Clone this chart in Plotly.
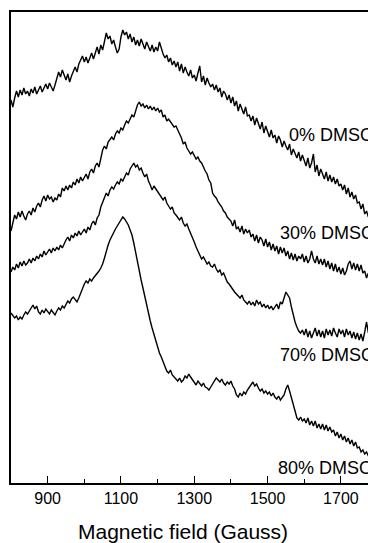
import plotly.graph_objects as go

# Magnetic field axis (Gauss), sampled every 5 G
field_start = 800
field_step = 5

# EPR signal traces (arbitrary units, offset vertically for display)
dmso_0 = [
    383, 376, 385, 392, 386, 393, 388, 395, 389, 392,
    387, 394, 390, 396, 389, 393, 397, 391, 395, 399,
    394, 400, 396, 392, 398, 404, 411, 406, 413, 408,
    403, 409, 401, 407, 412, 416, 411, 419, 423, 427,
    421, 426, 420, 425, 430, 424, 431, 436, 429, 438,
    433, 441, 450, 444, 447, 439, 443, 436, 430, 434,
    446, 453, 448, 451, 444, 449, 441, 446, 438, 443,
    437, 444, 439, 434, 441, 436, 432, 438, 431, 436,
    432, 441, 434, 429, 425, 428, 421, 425, 418, 422,
    416, 421, 412, 419, 410, 416, 411, 407, 413, 405,
    408, 402, 410, 417, 401, 407, 398, 405, 400, 396,
    399, 393, 398, 391, 395, 386, 392, 389, 383, 388,
    380, 386, 377, 382, 372, 379, 374, 369, 376, 367,
    368, 362, 367, 358, 365, 360, 354, 361, 350, 357,
    351, 346, 353, 345, 348, 340, 347, 343, 336, 342,
    337, 333, 339, 328, 334, 330, 325, 331, 322, 328,
    322, 317, 325, 315, 320, 329, 311, 318, 307, 314,
    309, 304, 311, 302, 308, 301, 306, 299, 304, 297,
    299, 293, 298, 289, 295, 286, 291, 284, 288, 280,
    281, 274, 279, 269, 272, 266,
]

dmso_30 = [
    252, 262, 268, 264, 271, 266, 272, 267, 263, 269,
    272, 268, 275, 271, 277, 280, 276, 283, 287, 282,
    288, 284, 286, 281, 285, 283, 289, 286, 295, 292,
    297, 293, 298, 295, 301, 298, 304, 300, 306, 302,
    305, 309, 304, 311, 314, 310, 317, 320, 316, 324,
    333, 337, 334, 341, 344, 346, 343, 349, 352, 350,
    355, 353, 358, 362, 360, 365, 368, 366, 372, 378,
    381, 377, 379, 375, 378, 374, 377, 373, 376, 372,
    375, 371, 373, 366, 368, 362, 364, 361, 359, 356,
    357, 352, 349, 345, 339, 341, 335, 332, 329, 331,
    327, 324, 326, 322, 320, 315, 312, 309, 303, 300,
    290, 287, 285, 281, 279, 276, 272, 270, 266, 264,
    262, 257, 263, 254, 256, 251, 257, 249, 254, 250,
    253, 246, 249, 242, 248, 240, 246, 243, 237, 244,
    236, 241, 233, 239, 232, 237, 229, 236, 230, 235,
    227, 232, 224, 230, 223, 229, 222, 227, 224, 229,
    221, 227, 220, 224, 232, 224, 220, 227, 219, 224,
    218, 224, 216, 222, 214, 220, 212, 219, 211, 216,
    209, 215, 208, 212, 219, 222, 214, 220, 213, 219,
    212, 218, 210, 212, 205, 210,
]

dmso_70 = [
    211, 216, 213, 219, 215, 221, 217, 222, 218, 220,
    224, 220, 225, 222, 227, 224, 229, 226, 232, 228,
    231, 234, 230, 235, 232, 236, 233, 238, 235, 240,
    243, 246, 242, 248, 245, 250, 247, 252, 248, 251,
    254, 250, 256, 253, 259, 262, 258, 265, 268, 276,
    281, 285, 290, 287, 293, 296, 294, 298, 301, 299,
    304, 302, 307, 310, 308, 314, 317, 320, 316, 318,
    313, 315, 310, 306, 309, 302, 298, 293, 297, 294,
    291, 289, 285, 283, 286, 280, 277, 274, 276, 270,
    268, 265, 263, 266, 260, 257, 259, 254, 250, 245,
    241, 236, 232, 229, 224, 226, 222, 219, 221, 217,
    216, 219, 214, 211, 213, 208, 210, 205, 201, 199,
    196, 194, 191, 189, 187, 185, 188, 183, 181, 179,
    182, 178, 181, 177, 183, 179, 181, 176, 179, 175,
    178, 174, 177, 173, 176, 179, 174, 181, 179, 186,
    191, 188, 185, 176, 168, 161, 156, 152, 150, 153,
    148, 154, 146, 152, 145, 151, 155, 147, 153, 146,
    152, 145, 154, 148, 153, 147, 155, 150, 146, 154,
    149, 153, 146, 154, 148, 152, 145, 151, 144, 150,
    143, 149, 142, 151, 161, 150,
]

dmso_80 = [
    170, 168, 165, 167, 163, 166, 164, 168, 171, 169,
    172, 175, 178, 174, 177, 171, 169, 173, 170, 174,
    172, 169, 173, 170, 168, 172, 175, 173, 177, 175,
    179, 182, 180, 184, 186, 183, 181, 185, 190, 196,
    199, 202, 200, 204, 202, 205, 207, 210, 212, 215,
    219, 225, 232, 238, 243, 247, 251, 254, 257, 260,
    263, 266, 264, 261, 258, 253, 248, 240, 230, 220,
    210, 203, 195, 186, 177, 169, 162, 155, 148, 142,
    135, 130, 126, 121, 117, 112, 110, 113, 108, 106,
    104, 102, 105, 101, 103, 107, 105, 109, 106, 103,
    101, 98, 102, 99, 97, 100, 96, 95, 93, 96,
    99, 102, 105, 103, 101, 104, 100, 98, 101, 99,
    102, 97, 94, 88, 86, 90, 87, 91, 89, 93,
    96, 99, 101, 97, 99, 95, 92, 94, 90, 92,
    89, 91, 87, 90, 86, 84, 87, 83, 85, 88,
    94, 98, 92, 86, 80, 72, 65, 63, 66, 62,
    64, 60, 65, 58, 62, 57, 62, 55, 59, 54,
    59, 53, 58, 52, 56, 51, 53, 47, 51, 45,
    49, 43, 47, 41, 45, 39, 43, 37, 41, 35,
    36, 31, 33, 29, 31, 27,
]

series_labels = ["0% DMSO", "30% DMSO", "70% DMSO", "80% DMSO"]
label_x = [1553, 1528, 1528, 1523]
label_y = [348, 250, 128, 15]

tick_values = [900, 1100, 1300, 1500, 1700]
tick_text = ["900", "1100", "1300", "1500", "1700"]

FONT = "Liberation Sans, Arial, sans-serif"

fig = go.Figure()
for trace in (dmso_0, dmso_30, dmso_70, dmso_80):
    field = [field_start + i * field_step for i in range(len(trace))]
    fig.add_trace(go.Scatter(
        x=field, y=trace, mode="lines",
        line=dict(color="black", width=1.4),
        showlegend=False, hoverinfo="skip",
    ))

for text, lx, ly in zip(series_labels, label_x, label_y):
    fig.add_annotation(
        x=lx, y=ly, xref="x", yref="y", text=text, showarrow=False,
        xanchor="left", yanchor="middle",
        font=dict(family=FONT, size=18, color="black"),
    )

fig.add_annotation(
    x=0.483, y=-0.102, xref="paper", yref="paper",
    text="Magnetic field (Gauss)", showarrow=False,
    xanchor="center", yanchor="middle",
    font=dict(family=FONT, size=21, color="black"),
)

fig.update_xaxes(
    range=[800, 1774], showgrid=False, zeroline=False,
    showline=True, linecolor="black", linewidth=1.5, mirror=True,
    ticks="inside", ticklen=7, tickwidth=1.3, tickcolor="black",
    tickvals=tick_values, ticktext=tick_text,
    tickfont=dict(family=FONT, size=16, color="black"),
    minor=dict(ticks="inside", ticklen=4, tickwidth=1.3, tickcolor="black",
               tickvals=[1000, 1200, 1400, 1600], showgrid=False),
)
fig.update_yaxes(
    range=[0, 471], showgrid=False, zeroline=False,
    showline=True, linecolor="black", linewidth=1.5, mirror=False,
    showticklabels=False, ticks="",
)

fig.update_layout(
    width=368, height=543,
    margin=dict(l=11, r=0, t=12, b=60),
    paper_bgcolor="white", plot_bgcolor="white",
    font=dict(family=FONT, color="black"),
)

fig.write_html("out.html")
